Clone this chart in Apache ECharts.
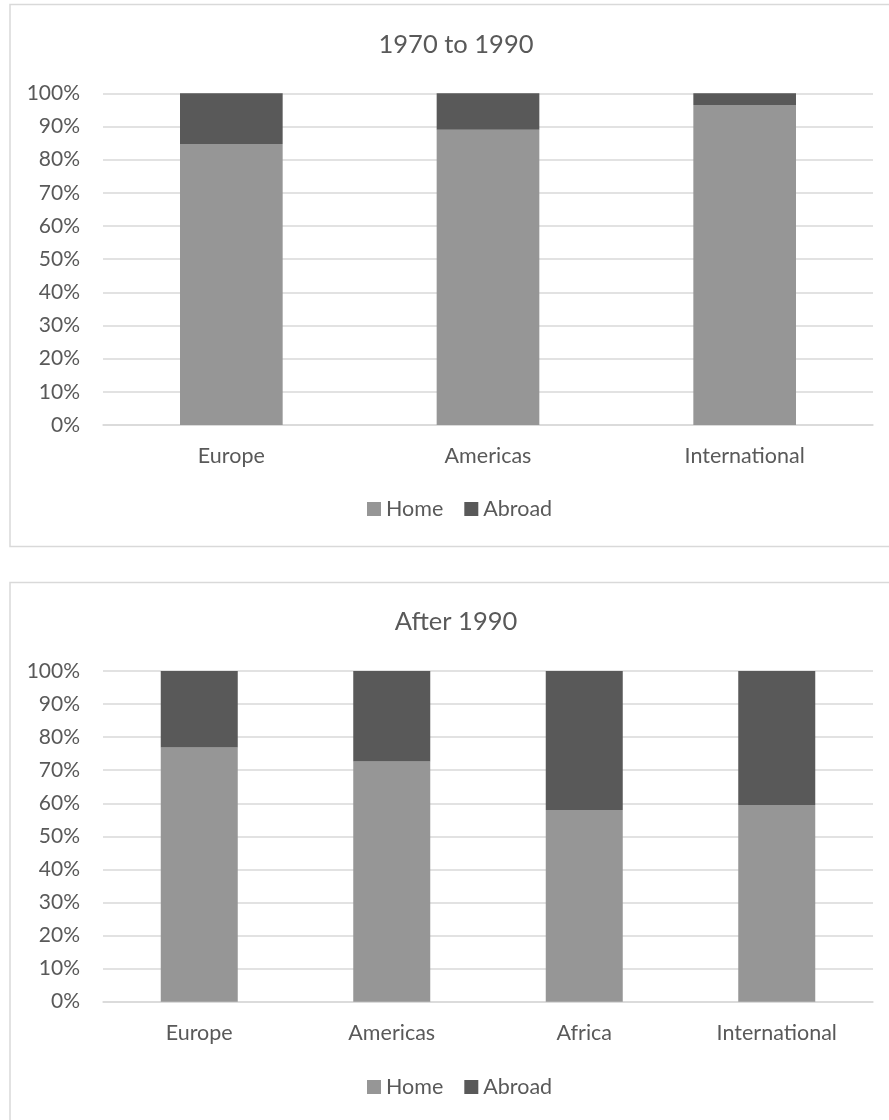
<!DOCTYPE html>
<html>
<head>
<meta charset="utf-8">
<script src="https://cdn.jsdelivr.net/npm/echarts@6/dist/echarts.min.js"></script>
<style>
  html, body { margin: 0; padding: 0; background: #ffffff; overflow: hidden; }
  #chart { width: 889px; height: 1120px; }
</style>
</head>
<body>
<div id="chart"></div>
<script>
// Share of people working at home vs. abroad, by region
const titleEarly = '1970 to 1990';
const titleLate = 'After 1990';
const seriesNames = ['Home', 'Abroad'];

const regionsEarly = ['Europe', 'Americas', 'International'];
const homeEarly = [84.7, 89.0, 96.5];
const abroadEarly = [15.3, 11.0, 3.5];

const regionsLate = ['Europe', 'Americas', 'Africa', 'International'];
const homeLate = [76.9, 72.6, 58.0, 59.5];
const abroadLate = [23.1, 27.4, 42.0, 40.5];

const yTicks = { min: 0, max: 100, interval: 10 };

const FONT = 'Lato, "Open Sans", sans-serif';
const TEXT = '#595959';
const GRID_LINE = '#d9d9d9';
const HOME_COLOR = '#969696';
const ABROAD_COLOR = '#595959';

const chart = echarts.init(document.getElementById('chart'), null, { renderer: 'canvas' });

function xAxisFor(idx, cats) {
  return {
    type: 'category', gridIndex: idx, data: cats,
    axisLine: { show: true, lineStyle: { color: GRID_LINE, width: 1.5 } },
    axisTick: { show: false },
    axisLabel: { color: TEXT, fontFamily: FONT, fontSize: 21.5, margin: 20 }
  };
}
function yAxisFor(idx) {
  return {
    type: 'value', gridIndex: idx,
    min: yTicks.min, max: yTicks.max, interval: yTicks.interval,
    axisLine: { show: false }, axisTick: { show: false },
    axisLabel: { color: TEXT, fontFamily: FONT, fontSize: 21, margin: 23, formatter: '{value}%' },
    splitLine: { lineStyle: { color: GRID_LINE, width: 1.5 } }
  };
}
function barSeries(name, idx, data, color, stack) {
  return {
    type: 'bar', name: name, stack: stack, data: data,
    xAxisIndex: idx, yAxisIndex: idx,
    barWidth: '40%', itemStyle: { color: color }
  };
}
function legendAt(top) {
  return {
    data: seriesNames, left: 367, top: top, padding: 0,
    itemWidth: 14, itemHeight: 14, itemGap: 21, icon: 'rect',
    textStyle: { color: TEXT, fontFamily: FONT, fontSize: 21.5 }
  };
}

chart.setOption({
  animation: false,
  backgroundColor: '#ffffff',
  grid: [
    { left: 103, top: 93.3, width: 770, height: 331.7, outerBoundsMode: 'none' },
    { left: 103, top: 671, width: 770, height: 330.7, outerBoundsMode: 'none' }
  ],
  xAxis: [xAxisFor(0, regionsEarly), xAxisFor(1, regionsLate)],
  yAxis: [yAxisFor(0), yAxisFor(1)],
  legend: [legendAt(498), legendAt(1076)],
  series: [
    barSeries('Home', 0, homeEarly, HOME_COLOR, 'early'),
    barSeries('Abroad', 0, abroadEarly, ABROAD_COLOR, 'early'),
    barSeries('Home', 1, homeLate, HOME_COLOR, 'late'),
    barSeries('Abroad', 1, abroadLate, ABROAD_COLOR, 'late')
  ],
  graphic: [
    { type: 'rect', shape: { x: 10, y: 4.5, width: 900, height: 542 }, style: { fill: null, stroke: GRID_LINE, lineWidth: 1.5 }, silent: true, z: -1 },
    { type: 'rect', shape: { x: 10, y: 582.5, width: 900, height: 560 }, style: { fill: null, stroke: GRID_LINE, lineWidth: 1.5 }, silent: true, z: -1 },
    { type: 'text', x: 456, y: 45, style: { text: titleEarly, fill: TEXT, font: '25.5px ' + FONT, textAlign: 'center', textVerticalAlign: 'middle' } },
    { type: 'text', x: 456, y: 622, style: { text: titleLate, fill: TEXT, font: '25.5px ' + FONT, textAlign: 'center', textVerticalAlign: 'middle' } }
  ]
});
</script>
</body>
</html>
